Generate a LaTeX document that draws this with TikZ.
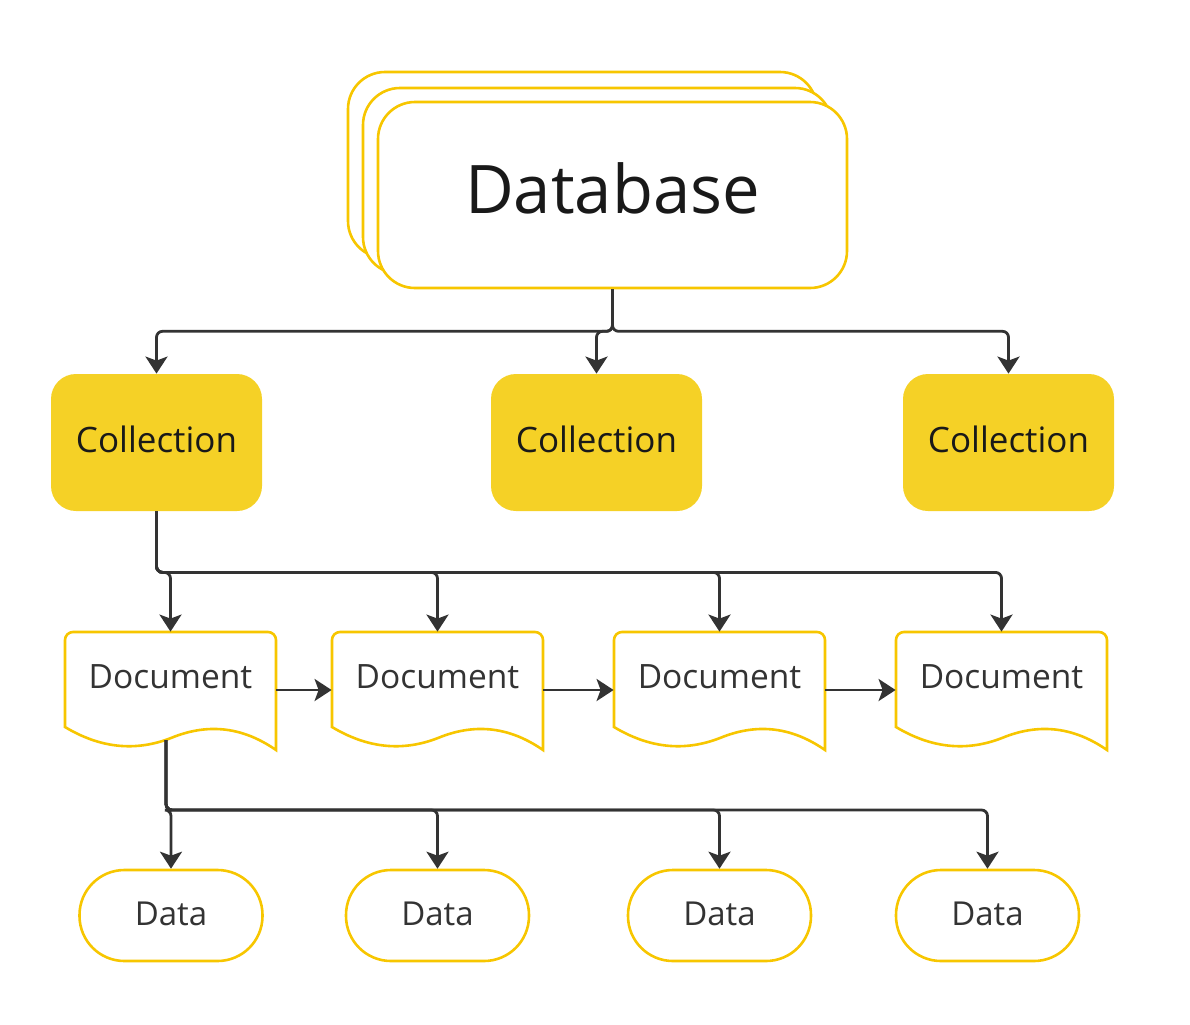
\documentclass[tikz,border=0pt]{standalone}
\usepackage{fontspec}
\setmainfont{Open Sans}
\usepackage{tikz}
\usetikzlibrary{arrows.meta,positioning,calc}
\definecolor{gold}{RGB}{247,198,0}
\definecolor{sun}{RGB}{245,209,38}
\definecolor{ink}{RGB}{51,51,51}
\tikzstyle{dbcard} = [rectangle, rounded corners=18.5pt, minimum width=234.5pt,
                      minimum height=93pt, draw=gold, line width=1.3pt, fill=white]
\tikzstyle{collection} = [rectangle, rounded corners=12.5pt, minimum width=105.5pt,
                          minimum height=68.5pt, fill=sun, text=black!90,
                          font=\fontsize{17.5}{21}\selectfont]
\tikzstyle{document} = [rectangle, minimum width=105.5pt, minimum height=58pt,
                        text depth=13pt, text=ink, font=\fontsize{16.75}{20}\selectfont]
\tikzstyle{docline} = [draw=gold, line width=1.3pt, fill=white]
\tikzstyle{datapill} = [rectangle, rounded corners=22.5pt, minimum width=91.5pt,
                        minimum height=45.5pt, draw=gold, line width=1.3pt, text=ink,
                        font=\fontsize{16.5}{20}\selectfont]
\tikzstyle{arrow} = [line width=1.4pt, draw=ink, rounded corners=3pt,
                     -{Stealth[length=8.5pt,width=11pt,inset=2pt]}]
\begin{document}
\begin{tikzpicture}[x=0.5pt, y=-0.5pt]
                \useasboundingbox (0,0) rectangle (1190,1024);
                % Database stack
                \node[dbcard] (dbback) at (582.5,165) {};
                \node[dbcard] (dbmid) at (597.5,181) {};
                \node[dbcard, text=black!90, font=\fontsize{33.5}{40}\selectfont] (db) at (612.5,195) {\raisebox{7pt}{Database}};
                
                % Collections
                \node[collection] (c1) at (156.5,442.5) {\raisebox{3pt}{Collection}};
                \node[collection] (c2) at (596.5,442.5) {\raisebox{3pt}{Collection}};
                \node[collection] (c3) at (1008.5,442.5) {\raisebox{3pt}{Collection}};
                
                % Document outlines
                \foreach \x in {65,332,614,896} {
                    \draw[docline] (\x,727) -- (\x,640) arc[start angle=180, end angle=270, radius=8]
                        -- (\x+203,632) arc[start angle=270, end angle=360, radius=8] -- (\x+211,750)
                        .. controls (\x+175,725) and (\x+140,724) .. (\x+106,738)
                        .. controls (\x+70,752) and (\x+35,748) .. (\x,727) -- cycle;
                }
                
                % Documents
                \node[document] (d1) at (170.5,690) {Document};
                \node[document] (d2) at (437.5,690) {Document};
                \node[document] (d3) at (719.5,690) {Document};
                \node[document] (d4) at (1001.5,690) {Document};
                \coordinate (d1b) at (166,740);
                
                % Data
                \node[datapill] (a1) at (171,915.5) {\raisebox{2pt}{Data}};
                \node[datapill] (a2) at (437.5,915.5) {\raisebox{2pt}{Data}};
                \node[datapill] (a3) at (719.5,915.5) {\raisebox{2pt}{Data}};
                \node[datapill] (a4) at (987.5,915.5) {\raisebox{2pt}{Data}};
                
                % Arrows
                \foreach \c in {c1,c2,c3}
                    \draw[arrow] (db.south) -- ++(0,42) -| (\c.north);
                \foreach \d in {d1,d2,d3,d4}
                    \draw[arrow] (c1.south) -- ++(0,61) -| (\d.north);
                \draw[arrow] (d1.east) -- (d2.west);
                \draw[arrow] (d2.east) -- (d3.west);
                \draw[arrow] (d3.east) -- (d4.west);
                \foreach \a in {a1,a2,a3,a4}
                    \draw[arrow] (d1b) -- ++(0,70) -| (\a.north);
            \end{tikzpicture}
\end{document}
